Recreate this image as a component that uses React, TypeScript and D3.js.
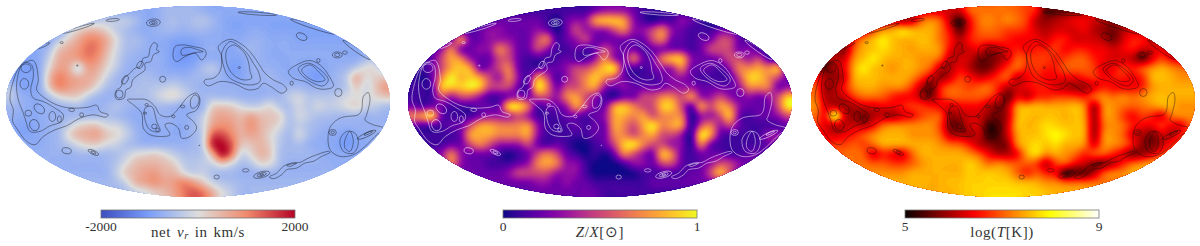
import React, { useEffect, useRef } from 'react';
import * as d3 from 'd3';

// net radial velocity, in units of 100 km/s, 40 columns x 20 rows across the map
const vrRows = [
  [-8,-8,-8,-8,-8,-8,-8,-8,-8,-8,-8,-8,-8,-8,-8,-8,-6,-6,-6,-6,-7,-8,-8,-8,-8,-8,-8,-8,-8,-8,-8,-8,-8,-8,-8,-8,-8,-8,-8,-8],
  [-9,-9,-9,-9,-9,-9,-9,-8,-6,-4,-3,-3,-3,-5,-8,-8,-6,-5,-6,-5,-4,-6,-8,-9,-9,-9,-9,-9,-9,-9,-9,-9,-9,-9,-9,-9,-9,-9,-9,-9],
  [-9,-9,-9,-9,-9,-9,-4,1,4,4,1,-3,-5,-7,-8,-7,-6,-6,-7,-6,-6,-7,-8,-9,-9,-8,-8,-9,-9,-9,-9,-9,-9,-9,-9,-9,-9,-9,-9,-9],
  [-9,-9,-9,-9,-8,-4,2,6,10,10,6,0,-5,-5,-7,-8,-8,-9,-9,-9,-8,-8,-8,-8,-8,-7,-7,-8,-8,-8,-9,-9,-9,-9,-9,-9,-9,-9,-9,-9],
  [-9,-9,-9,-8,-5,3,6,8,12,11,5,-1,-5,-6,-7,-8,-8,-10,-11,-10,-8,-7,-8,-9,-7,-6,-7,-8,-8,-8,-8,-8,-8,-8,-8,-8,-8,-8,-8,-8],
  [-9,-9,-9,-8,-2,6,7,8,11,9,3,-2,-6,-7,-8,-7,-8,-10,-11,-10,-8,-8,-8,-9,-9,-7,-7,-8,-8,-8,-8,-8,-8,-8,-8,-8,-8,-6,-4,-7],
  [-9,-10,-10,-8,1,7,6,-3,7,6,1,-3,-7,-7,-7,-7,-8,-9,-9,-8,-5,-3,-7,-10,-9,-7,-7,-7,-8,-8,-8,-9,-9,-8,-7,-6,-3,1,0,-5],
  [-9,-9,-9,-8,4,11,8,6,6,4,-2,-6,-7,-6,-5,-6,-7,-6,-7,-6,-6,-6,-7,-9,-9,-7,-7,-6,-7,-8,-8,-9,-11,-8,-6,-3,6,0,2,3],
  [-4,-9,-9,-8,3,10,8,6,5,0,-5,-6,-6,-5,-5,-4,-3,-2,-4,-6,-7,-7,-7,-7,-7,-7,-7,-7,-7,-6,-6,-7,-7,-7,-6,-4,3,-2,3,8],
  [-3,-7,-8,-8,-5,0,2,2,-3,-6,-7,-7,-6,-5,-5,-3,0,1,-2,-5,-6,-5,-6,-6,-7,-7,-7,-6,-6,-3,-1,-4,-4,-4,-3,-1,0,-1,1,3],
  [-6,-7,-8,-8,-7,-7,-6,-5,-7,-7,-6,-4,-6,-7,-7,-6,-6,-7,-8,-7,-7,2,3,2,-1,-3,-2,1,-4,-5,-1,-4,-1,-3,-2,0,2,-2,-3,-5],
  [-7,-8,-8,-8,-7,-7,-6,-6,-6,-6,-5,-6,-7,-8,-8,-7,-7,-7,-8,-6,-3,5,7,6,4,7,4,3,2,-5,-1,-3,-5,-5,-6,-6,-6,-7,-6,-7],
  [-8,-9,-9,-8,-7,-6,-3,1,3,3,-1,-1,-4,-7,-8,-8,-7,-8,-8,-6,-2,7,9,8,5,9,5,3,0,-5,-3,-5,-6,-7,-7,-7,-7,-7,-7,-7],
  [-8,-9,-9,-8,-7,-6,1,5,6,7,3,1,-2,-6,-8,-8,-8,-8,-8,-6,-3,14,15,10,5,7,5,1,-3,-6,-1,-5,-7,-8,-8,-10,-8,-8,-7,-7],
  [-7,-7,-8,-8,-7,-6,-4,-1,2,2,-1,-2,-5,-6,-7,-7,-7,-7,-7,-6,-3,18,20,14,3,3,5,2,-4,-6,-5,-7,-8,-8,-9,-11,-9,-8,-8,-8],
  [-7,-7,-7,-7,-7,-7,-7,-6,-6,-6,-6,-5,-3,0,1,2,0,-3,-5,-5,-4,6,20,12,-2,1,5,3,-5,-6,-6,-6,-7,-8,-8,-8,-8,-8,-8,-8],
  [-7,-7,-7,-7,-7,-7,-7,-7,-7,-7,-6,-4,0,4,5,5,4,2,-3,-4,-3,-2,3,-1,-5,-4,1,0,-5,-7,-7,-7,-7,-7,-8,-8,-8,-8,-8,-8],
  [-7,-7,-7,-7,-7,-7,-7,-7,-7,-7,-7,-3,3,5,7,8,5,5,0,-3,-2,-5,-6,-6,-7,-7,-7,-7,-7,-7,-7,-7,-7,-7,-7,-7,-7,-7,-7,-7],
  [-6,-6,-6,-6,-6,-6,-6,-6,-6,-6,-6,-5,-2,5,7,9,7,8,11,8,3,-2,-4,-5,-6,-6,-6,-6,-6,-6,-6,-6,-6,-6,-6,-6,-6,-6,-6,-6],
  [-6,-6,-6,-6,-6,-6,-6,-6,-6,-6,-6,-6,-5,-3,-1,2,4,7,11,14,12,6,0,-3,-6,-6,-6,-6,-6,-6,-6,-6,-6,-6,-6,-6,-6,-6,-6,-6],
];

// metallicity, in tenths of solar
const zRows = [
  [1,1,1,1,1,1,1,1,1,1,1,1,1,1,1,1,1,1,1,2,3,3,3,2,1,1,1,1,1,1,1,1,1,1,1,1,1,1,1,1],
  [0,0,0,0,0,0,0,0,1,2,2,2,2,2,1,0,2,3,3,8,9,9,8,3,1,0,1,1,3,2,1,0,0,0,0,0,0,0,0,0],
  [0,0,0,0,0,0,1,2,3,3,2,2,2,3,2,0,2,5,3,3,3,5,7,3,3,5,7,3,2,1,1,1,2,2,1,1,1,1,1,1],
  [0,0,0,0,2,8,2,2,3,3,3,2,2,5,7,1,2,3,5,2,2,2,2,2,2,5,7,2,2,1,2,2,5,5,2,1,1,1,1,1],
  [0,0,1,3,7,2,2,3,3,7,5,2,2,5,3,1,1,2,1,2,5,3,2,2,1,2,2,2,2,1,2,5,5,5,2,3,1,1,1,1],
  [1,1,2,5,8,7,3,2,2,5,5,2,1,1,1,1,2,1,1,3,7,3,2,7,2,2,7,9,9,3,2,2,3,5,5,3,5,1,0,0],
  [1,1,2,5,8,9,8,2,3,5,7,2,1,1,2,2,3,5,5,7,9,10,2,1,1,2,3,3,7,2,2,2,1,3,7,7,8,7,9,2],
  [1,0,2,7,10,8,9,8,5,3,7,3,1,8,5,1,3,5,7,9,7,5,2,1,1,1,2,3,3,2,1,1,1,1,5,9,9,7,5,2],
  [1,1,1,9,9,9,10,9,5,5,5,2,1,10,7,2,5,5,7,8,3,2,3,2,2,2,2,3,3,3,2,2,2,2,3,7,7,7,2,3],
  [1,1,1,5,3,5,5,3,1,1,2,3,2,5,5,3,7,8,5,3,1,0,2,2,5,5,7,7,5,8,3,3,5,3,2,3,2,3,5,9],
  [2,1,2,2,1,1,1,2,2,2,10,10,7,1,2,2,3,8,5,2,2,8,9,7,5,5,9,9,5,1,8,5,8,7,3,2,2,2,5,10],
  [7,8,10,2,1,1,1,2,3,3,3,5,3,1,1,1,2,2,1,2,3,8,8,7,8,5,7,7,7,0,3,3,5,9,2,1,2,2,3,5],
  [2,1,1,1,2,2,5,8,8,7,7,7,8,3,1,1,1,2,1,2,2,8,7,5,8,10,7,8,8,0,5,7,3,5,2,1,1,1,1,2],
  [1,1,1,1,1,2,8,8,8,7,7,7,8,3,1,1,1,1,1,2,2,7,7,5,7,8,5,5,3,0,10,8,2,1,1,1,1,3,3,2],
  [1,1,1,1,2,2,5,7,5,3,3,3,5,2,1,2,1,0,0,1,2,5,9,10,7,5,5,3,3,0,7,2,1,1,1,1,1,2,3,2],
  [2,2,2,3,7,3,2,2,2,1,0,1,2,5,7,5,2,1,0,1,0,2,7,5,3,2,9,7,2,1,2,2,2,1,1,2,2,2,2,2],
  [2,2,2,2,7,3,2,2,1,1,1,2,3,7,8,7,3,3,1,0,0,0,1,3,3,2,5,5,2,1,2,3,5,5,3,2,2,2,2,2],
  [2,2,2,2,2,2,2,2,2,2,3,5,5,5,5,3,3,3,1,0,0,0,0,0,1,1,1,1,1,2,2,5,9,5,2,2,2,2,2,2],
  [2,2,2,2,2,2,2,2,2,2,2,2,2,3,3,2,3,2,2,1,1,1,1,1,1,2,2,2,2,2,2,2,2,2,2,2,2,2,2,2],
  [2,2,2,2,2,2,2,2,2,2,2,2,2,2,2,2,2,2,2,2,1,1,1,1,1,1,1,1,1,1,1,1,1,1,1,1,1,1,1,1],
];

// log temperature, in tenths of a dex
const tRows = [
  [62,62,62,62,62,62,62,62,62,62,62,62,62,62,62,62,70,71,71,71,71,70,68,66,54,55,56,58,60,62,62,62,62,62,62,62,62,62,62,62],
  [60,60,60,60,60,60,60,60,62,58,60,70,73,70,60,52,64,71,73,71,73,71,68,60,58,60,62,64,64,62,60,58,58,58,58,58,58,58,58,58],
  [60,60,60,60,60,60,68,73,75,78,76,75,75,71,64,54,64,70,71,70,68,68,66,62,60,62,62,62,64,60,58,56,60,62,60,58,58,58,58,58],
  [60,60,60,62,66,73,76,79,76,75,75,76,75,71,66,60,66,68,68,68,66,64,64,64,62,66,66,62,62,62,60,56,62,66,66,62,60,60,60,60],
  [58,58,60,56,70,75,76,78,76,75,74,75,75,73,64,60,62,64,58,60,64,66,64,66,66,68,64,66,66,64,64,62,64,66,62,62,64,58,56,60],
  [60,60,60,62,73,76,79,76,75,75,75,73,73,70,60,62,62,56,56,58,62,70,68,68,68,66,68,70,70,66,64,62,62,60,54,62,68,64,62,62],
  [62,54,60,64,75,79,76,75,73,75,75,73,70,60,60,64,60,56,56,62,68,71,66,68,66,66,70,70,70,68,62,64,68,66,70,73,75,73,71,71],
  [66,60,58,62,75,76,76,75,75,75,73,68,62,58,62,68,66,62,64,68,70,60,64,66,64,64,64,64,66,68,64,66,66,64,66,75,76,75,73,73],
  [70,58,60,66,73,75,75,73,73,73,68,60,54,66,70,70,68,70,71,66,60,62,64,66,66,62,60,58,58,62,66,64,64,64,66,73,75,75,75,75],
  [71,60,60,62,68,71,71,70,66,64,64,60,56,66,70,70,70,70,68,64,54,64,60,66,66,68,68,68,66,71,73,71,73,71,73,75,76,75,75,75],
  [73,62,60,58,60,62,62,64,64,66,68,68,66,64,62,64,64,64,60,56,60,74,75,76,75,75,75,76,73,58,73,73,71,70,71,73,75,75,73,73],
  [71,64,84,62,58,56,60,60,58,62,64,68,70,70,58,60,62,62,58,56,60,75,76,75,76,76,75,76,74,58,73,73,68,64,68,66,62,71,73,73],
  [68,62,60,60,62,60,64,71,73,73,73,73,73,68,56,56,62,62,52,54,62,76,75,76,78,77,76,76,75,58,71,73,71,66,64,64,68,64,62,70],
  [66,64,62,64,66,70,73,75,75,75,73,73,73,70,60,60,58,62,52,54,62,74,76,76,78,80,78,76,75,58,73,73,70,62,60,56,62,60,66,70],
  [68,66,68,68,70,68,71,75,75,75,75,75,75,73,71,70,66,60,58,56,58,73,76,78,76,78,75,75,73,62,73,73,71,66,58,56,60,66,70,71],
  [70,70,70,71,71,70,62,66,64,62,70,75,75,75,75,75,73,70,64,60,60,64,75,78,73,75,73,71,66,70,70,66,62,56,58,62,68,71,73,73],
  [71,71,71,71,71,71,70,70,68,68,70,73,75,75,75,75,77,75,71,73,71,70,70,68,60,68,70,64,62,56,56,60,66,71,73,75,75,75,75,75],
  [73,73,73,73,73,73,73,73,73,73,75,75,75,75,75,75,77,76,77,76,75,70,66,70,66,64,52,54,54,60,70,73,73,75,75,75,75,75,75,75],
  [75,75,75,75,75,75,75,75,75,75,75,75,75,75,76,76,77,77,77,77,77,76,76,75,73,73,71,71,71,71,71,71,71,73,73,73,73,73,73,73],
  [75,75,75,75,75,75,75,75,75,75,75,75,75,75,75,76,77,77,78,78,78,78,77,77,76,75,75,75,75,75,75,75,75,75,75,75,75,75,75,75],
];

// column density contours, traced in map units (x 18-1170, y 18-592)
const contourLoops = [
  [[100,182],[115,240],[110,270],[150,305],[185,320],[215,325],[265,322],[290,316],[300,335],[325,345],[318,352],[280,345],[240,355],[200,378],[165,390],[130,410],[105,435],[80,425],[50,385],[38,365],[40,330],[30,300],[38,250],[60,200]],
  [[70,188],[95,195],[100,230],[92,270],[100,295],[130,305],[165,325],[190,345],[185,365],[150,378],[120,395],[90,395],[78,365],[70,340],[55,300],[50,250]],
  [[345,285],[350,270],[362,262],[372,235],[388,222],[405,205],[420,200],[430,175],[445,170],[450,145],[462,128],[472,135],[470,150],[478,155],[460,165],[452,185],[435,190],[435,210],[415,225],[398,240],[392,262],[378,270],[372,295],[350,298]],
  [[525,140],[550,135],[580,140],[615,150],[618,165],[605,180],[585,160],[555,170],[530,185],[520,175]],
  [[545,148],[565,142],[595,150],[610,155],[585,158],[560,165],[545,165]],
  [[615,240],[640,235],[660,215],[665,170],[655,140],[690,118],[720,130],[750,155],[775,190],[795,220],[820,240],[850,255],[860,270],[845,280],[815,262],[790,250],[775,265],[745,270],[700,250],[660,245],[625,258],[612,248]],
  [[665,160],[690,125],[720,140],[745,165],[760,190],[775,215],[780,245],[755,255],[720,250],[685,230],[670,195]],
  [[680,150],[700,135],[730,155],[745,185],[750,215],[755,235],[730,240],[700,225],[680,190]],
  [[865,215],[900,190],[930,182],[960,195],[985,225],[1000,260],[975,268],[950,265],[915,245],[880,235]],
  [[895,205],[925,190],[955,205],[985,240],[970,258],[940,250],[905,225]],
  [[905,210],[930,195],[955,215],[975,240],[950,245],[920,230]],
  [[382,300],[410,298],[440,300],[465,320],[480,345],[510,350],[540,320],[565,290],[590,280],[600,300],[590,330],[560,345],[580,365],[590,385],[570,410],[545,415],[535,385],[510,370],[495,375],[510,405],[490,410],[450,405],[430,385],[425,340],[400,315]],
  [[435,325],[455,320],[470,365],[480,395],[450,390],[435,360]],
  [[572,300],[585,285],[597,295],[590,320],[575,325]],
  [[985,400],[995,375],[1020,355],[1040,350],[1075,345],[1085,330],[1090,290],[1105,278],[1110,300],[1100,345],[1095,360],[1120,375],[1150,385],[1125,410],[1095,440],[1060,465],[1020,470],[990,450]],
  [[1020,420],[1040,395],[1065,400],[1075,430],[1060,460],[1030,455]],
  [[1035,420],[1050,395],[1060,425],[1050,455],[1035,445]],
  [[808,532],[830,520],[850,500],[875,490],[900,488],[925,475],[950,465],[985,455],[990,458],[965,470],[940,485],[915,490],[890,505],[860,510],[845,525],[820,537]],
  [[860,497],[890,490],[870,500]],
];

// small closed contours: centre x, centre y, radius x, radius y, tilt
const contourRings = [
  [78,205,15,13,0],[73,252,13,16,0],[85,340,10,9,0],[103,376,14,17,-20],[118,327,18,12,40],[157,350,10,15,0],[178,358,6,10,0],[215,330,9,5,0],[245,345,6,6,0],
  [488,238,9,9,0],[375,240,8,14,30],[358,283,11,12,0],[420,195,8,12,30],[200,453,14,9,10],[280,458,17,6,25],[280,458,8,3,25],[650,532,8,6,0],[737,512,10,5,0],
  [785,525,25,9,-15],[785,525,14,5,-15],[785,525,6,2,-15],[905,110,17,10,25],[1012,165,15,9,0],[1012,165,8,5,0],[1035,158,7,5,0],[460,68,21,11,-5],[460,68,12,6,-5],[460,68,5,3,0],
  [338,60,20,4,-5],[185,128,5,3,0],[875,250,5,6,0],[955,182,5,6,0],[1015,278,11,12,0],[998,398,11,9,0],[998,398,5,4,0],[718,203,3,3,0],[463,380,8,7,0],[472,390,5,5,0],
  [560,383,6,6,0],[548,320,7,4,0],[520,350,5,4,0],[435,340,5,3,0],[440,315,5,4,0],[232,197,2,2,0],[598,437,1,1,0],[1100,405,30,6,-25],[1105,400,14,3,-25],
  [772,41,58,4,4],[940,80,72,6,18],[127,138,24,4,-22],[235,85,50,4,-17],[1070,150,50,6,35],
];

const panels = [
  {
    rows: vrRows, left: 6, barLeft: 101, line: '#111', lineWidth: 0.5, step: 0.5,
    color: d3.scaleLinear<string>().domain([-20, -10, 0, 10, 20]).range(['#3b4cc0', '#7b9ff9', '#dddddd', '#f08a6c', '#b40426']).clamp(true),
    domain: [-20, 20], ticks: ['-2000', '2000'], id: 'vr',
  },
  {
    rows: zRows, left: 408, barLeft: 503, line: '#fff', lineWidth: 0.6, step: 0.2,
    color: d3.scaleSequential(d3.interpolatePlasma).domain([0, 10]).clamp(true),
    domain: [0, 10], ticks: ['0', '1'], id: 'z',
  },
  {
    rows: tRows, left: 811, barLeft: 905, line: '#111', lineWidth: 0.5, step: 0.5,
    color: d3.scaleLinear<string>().domain([50, 64.6, 79.8, 90]).range(['#0b0000', '#ff0000', '#ffff00', '#ffffff']).clamp(true),
    domain: [50, 90], ticks: ['5', '9'], id: 't',
  },
];

const MAP_W = 384;
const MAP_TOP = 6;
const MAP_BOTTOM = 197;
const BAR_W = 194;
const UP = 4; // pixels of the fine grid per cell of the read grid

const cubic = (a: number, b: number, c: number, d: number, t: number) =>
  b + 0.5 * t * (c - a + t * (2 * a - 5 * b + 4 * c - d + t * (3 * (b - c) + d - a)));

// resample the read grid for drawing, then soften it a little
const fineGrid = (rows: number[][]) => {
  const nx = rows[0].length * UP;
  const ny = rows.length * UP;
  const at = (i: number, j: number) =>
    rows[Math.max(0, Math.min(rows.length - 1, j))][Math.max(0, Math.min(nx / UP - 1, i))];
  const data = new Float64Array(nx * ny);
  for (let fy = 0; fy < ny; fy++) {
    const v = (fy + 0.5) / UP - 0.5;
    const j = Math.floor(v);
    for (let fx = 0; fx < nx; fx++) {
      const u = (fx + 0.5) / UP - 0.5;
      const i = Math.floor(u);
      const col = [-1, 0, 1, 2].map((k) =>
        cubic(at(i - 1, j + k), at(i, j + k), at(i + 1, j + k), at(i + 2, j + k), u - i));
      data[fy * nx + fx] = cubic(col[0], col[1], col[2], col[3], v - j);
    }
  }
  d3.blur2({ data, width: nx, height: ny }, 0.5);
  return { data, nx, ny };
};

const App = () => {
  const chartRef = useRef<SVGSVGElement>(null);

  useEffect(() => {
    document.body.style.margin = '0';
    const svg = d3.select(chartRef.current);
    svg.selectAll('*').remove();
    const defs = svg.append('defs');

    panels.forEach((p) => {
      const { data, nx, ny } = fineGrid(p.rows);
      const x = d3.scaleLinear().domain([0, nx]).range([p.left, p.left + MAP_W]);
      const y = d3.scaleLinear().domain([0, ny]).range([MAP_TOP, MAP_BOTTOM]);
      const cx = d3.scaleLinear().domain([18, 1170]).range([p.left, p.left + MAP_W]);
      const cy = d3.scaleLinear().domain([18, 592]).range([MAP_TOP, MAP_BOTTOM]);

      defs.append('clipPath')
        .attr('id', 'clip-' + p.id)
        .append('ellipse')
        .attr('cx', p.left + MAP_W / 2)
        .attr('cy', (MAP_TOP + MAP_BOTTOM) / 2)
        .attr('rx', MAP_W / 2)
        .attr('ry', (MAP_BOTTOM - MAP_TOP) / 2);

      const map = svg.append('g').attr('clip-path', 'url(#clip-' + p.id + ')');

      const [lo, hi] = d3.extent(data) as [number, number];
      const thresholds = d3.range(Math.floor(lo), Math.ceil(hi), p.step);
      const bands = d3.contours().size([nx, ny]).thresholds(thresholds)(data as unknown as number[]);
      const path = d3.geoPath(d3.geoTransform({
        point(px, py) { this.stream.point(x(px), y(py)); },
      }));

      map.append('rect')
        .attr('x', p.left).attr('y', MAP_TOP)
        .attr('width', MAP_W).attr('height', MAP_BOTTOM - MAP_TOP)
        .attr('fill', p.color(lo) as string);

      map.append('g')
        .selectAll('path')
        .data(bands)
        .enter()
        .append('path')
        .attr('d', (d) => path(d))
        .attr('fill', (d) => p.color(d.value + p.step / 2) as string);

      const line = d3.line<number[]>()
        .x((d) => cx(d[0]))
        .y((d) => cy(d[1]))
        .curve(d3.curveCatmullRomClosed.alpha(0.5));

      const lines = map.append('g')
        .attr('fill', 'none')
        .attr('stroke', p.line)
        .attr('stroke-width', p.lineWidth)
        .attr('stroke-opacity', 0.85);

      lines.selectAll('path')
        .data(contourLoops)
        .enter()
        .append('path')
        .attr('d', (d) => line(d));

      lines.selectAll('ellipse')
        .data(contourRings)
        .enter()
        .append('ellipse')
        .attr('rx', (d) => d[2] / 3)
        .attr('ry', (d) => d[3] / 3)
        .attr('transform', (d) => 'translate(' + cx(d[0]) + ',' + cy(d[1]) + ') rotate(' + d[4] + ')');

      // colour bar
      const bar = d3.scaleLinear().domain(p.domain).range([p.barLeft, p.barLeft + BAR_W]);
      const grad = defs.append('linearGradient').attr('id', 'grad-' + p.id);
      d3.range(0, 1.001, 0.05).forEach((t) => {
        const v = p.domain[0] + t * (p.domain[1] - p.domain[0]);
        grad.append('stop')
          .attr('offset', t)
          .attr('stop-color', p.color(v) as string);
      });
      svg.append('rect')
        .attr('x', bar(p.domain[0]))
        .attr('y', 210)
        .attr('width', BAR_W)
        .attr('height', 8)
        .attr('fill', 'url(#grad-' + p.id + ')')
        .attr('stroke', '#777')
        .attr('stroke-width', 0.8);

      svg.selectAll('text.tick-' + p.id)
        .data(p.domain)
        .enter()
        .append('text')
        .attr('class', 'tick-' + p.id)
        .attr('x', (d) => bar(d))
        .attr('y', 231)
        .attr('text-anchor', 'middle')
        .attr('font-family', '"Liberation Serif", serif')
        .attr('font-size', 13.5)
        .attr('fill', '#333')
        .text((d, i) => p.ticks[i]);

      const label = svg.append('text')
        .attr('x', bar(p.domain[0]) + BAR_W / 2)
        .attr('y', 237)
        .attr('text-anchor', 'middle')
        .attr('font-family', '"Liberation Serif", serif')
        .attr('font-size', 15)
        .attr('letter-spacing', 0.6)
        .attr('word-spacing', 1.5)
        .attr('fill', '#333');

      if (p.id === 'vr') {
        label.append('tspan').text('net ');
        label.append('tspan').attr('font-style', 'italic').text('v');
        label.append('tspan').attr('font-style', 'italic').attr('font-size', 10.5).attr('dy', 2).text('r');
        label.append('tspan').attr('dy', -2).text(' in km/s');
      } else if (p.id === 'z') {
        label.append('tspan').attr('font-style', 'italic').text('Z');
        label.append('tspan').text('/');
        label.append('tspan').attr('font-style', 'italic').text('X');
        label.append('tspan').text('[⊙]');
      } else {
        label.append('tspan').text('log(');
        label.append('tspan').attr('font-style', 'italic').text('T');
        label.append('tspan').text('[K])');
      }
    });
  }, []);

  return (
    <svg ref={chartRef} width={1200} height={246} style={{ display: 'block', background: '#fff' }}></svg>
  );
};

export default App;
